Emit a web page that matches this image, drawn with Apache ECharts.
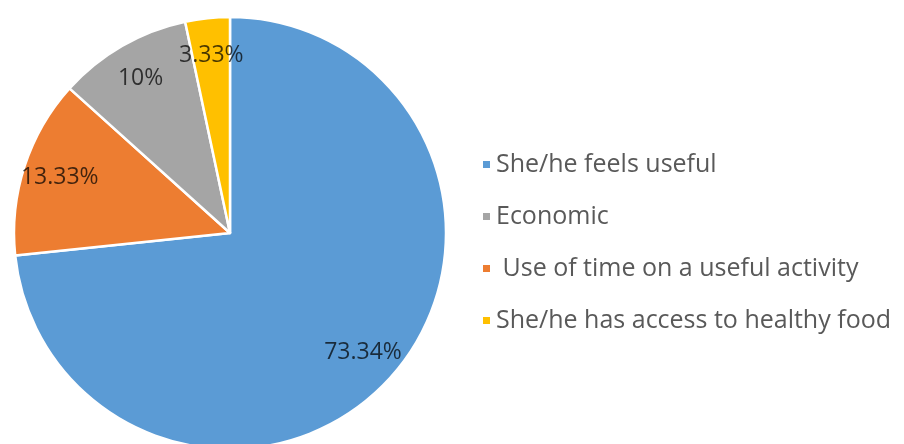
<!DOCTYPE html>
<html>
<head>
<meta charset="utf-8">
<script src="https://cdn.jsdelivr.net/npm/echarts@6/dist/echarts.min.js"></script>
<style>
  html, body { margin: 0; padding: 0; background: #fff; }
  #main_chart { width: 904px; height: 444px; }
</style>
</head>
<body>
<div id="main_chart"></div>
<script>
// slices in clockwise order from 12 o'clock
var categories = ['She/he feels useful', 'Use of time on a useful activity', 'Economic', 'She/he has access to healthy food'];
var percents = [73.34, 13.33, 10, 3.33];
var labels = ['73.34%', '13.33%', '10%', '3.33%'];
var colors = ['#5B9BD5', '#ED7D31', '#A5A5A5', '#FFC000'];
// legend order as shown on the right
var legendOrder = ['She/he feels useful', 'Economic', 'Use of time on a useful activity', 'She/he has access to healthy food'];

var mychart = echarts.init(document.getElementById('main_chart'));

var pieData = categories.map(function (c, i) {
    return { name: c, value: percents[i], itemStyle: { color: colors[i] } };
});
var labelData = categories.map(function (c, i) {
    return { name: c, value: percents[i], label: { formatter: labels[i] } };
});

var option = {
    animation: false,
    legend: {
        orient: 'vertical',
        left: 476,
        top: 147,
        itemWidth: 9,
        itemHeight: 9,
        itemGap: 27,
        icon: 'rect',
        data: legendOrder,
        formatter: function (name) {
            // the reference has a stray leading space on this entry
            return name === 'Use of time on a useful activity' ? ' ' + name : name;
        },
        textStyle: { color: '#595959', fontSize: 25, fontFamily: 'Open Sans' }
    },
    series: [
        {
            type: 'pie',
            center: [230, 233],
            radius: [0, 216],
            startAngle: 90,
            clockwise: true,
            label: { show: false },
            labelLine: { show: false },
            itemStyle: { borderColor: '#fff', borderWidth: 2.5 },
            data: pieData
        },
        {
            // transparent ring only used to place the percentage labels
            type: 'pie',
            center: [230, 233],
            radius: [136, 216],
            startAngle: 90,
            clockwise: true,
            silent: true,
            itemStyle: { color: 'rgba(0,0,0,0)' },
            label: {
                show: true,
                position: 'inside',
                color: 'rgba(0,0,0,0.72)',
                fontSize: 23,
                fontFamily: 'Open Sans'
            },
            labelLine: { show: false },
            data: labelData
        }
    ]
};
mychart.setOption(option);
</script>
</body>
</html>
